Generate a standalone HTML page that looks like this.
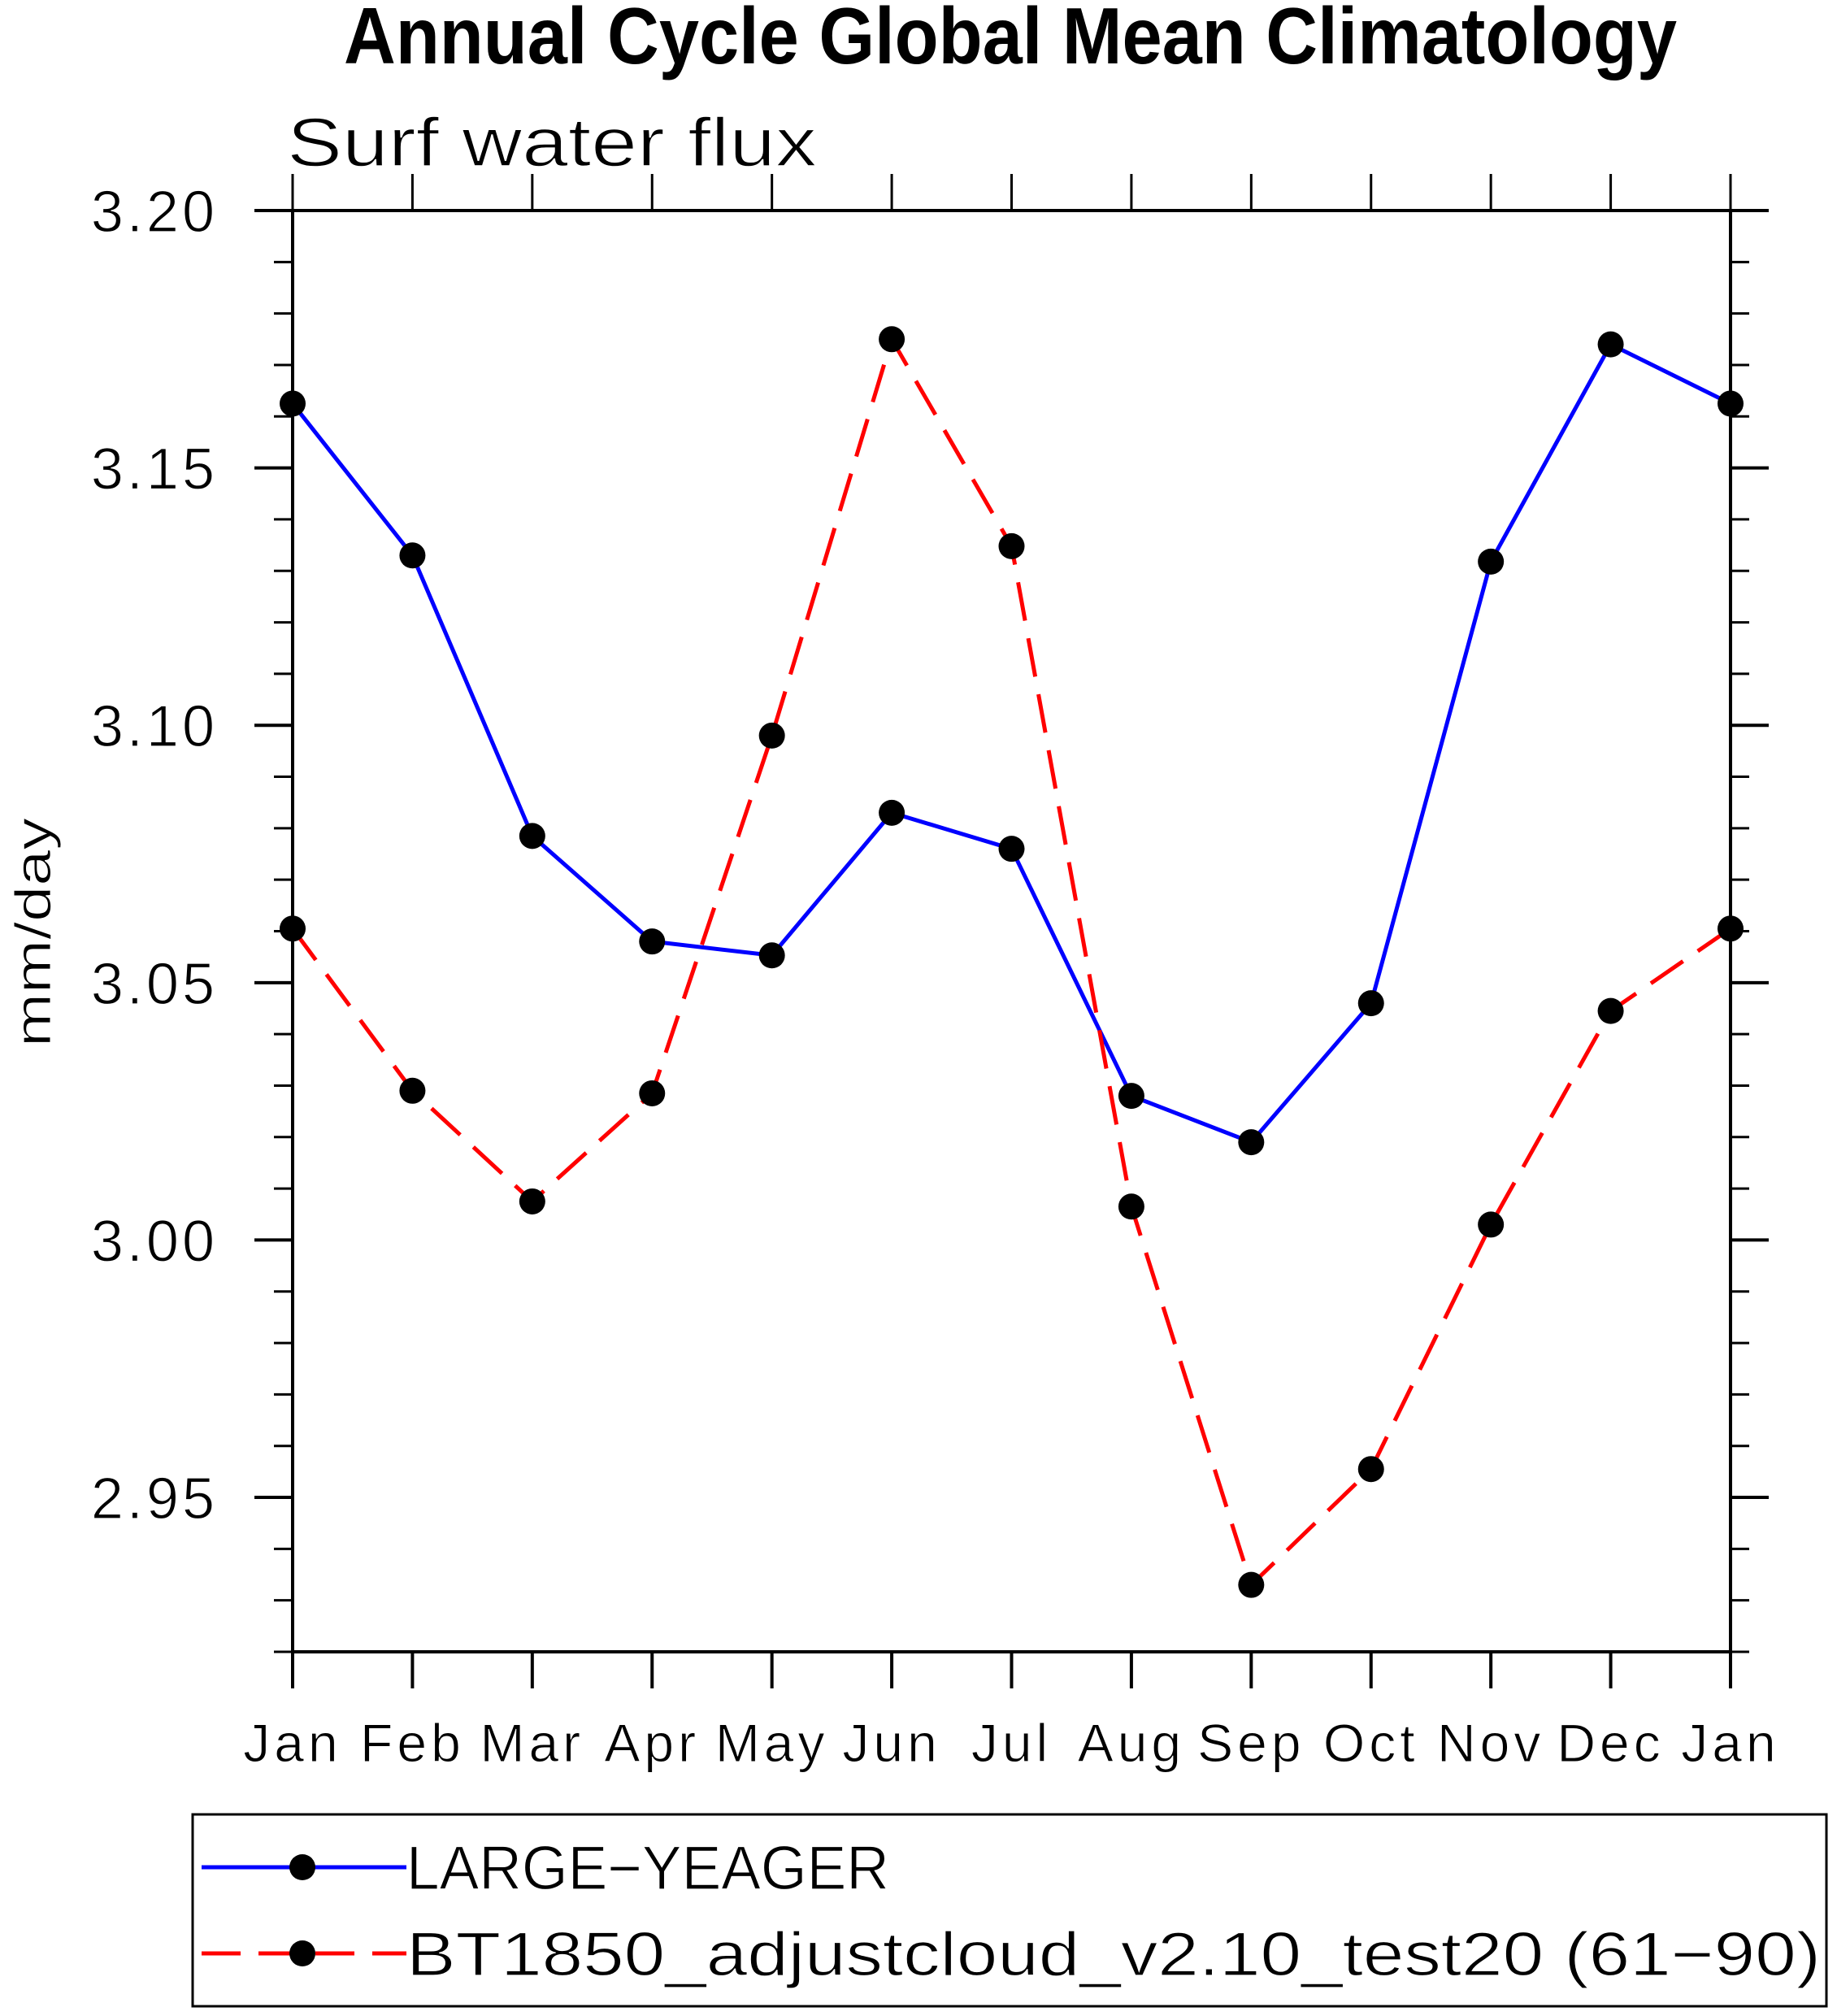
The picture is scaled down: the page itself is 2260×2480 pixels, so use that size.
<!DOCTYPE html>
<html><head><meta charset="utf-8"><style>
html,body{margin:0;padding:0;background:#fff;}
svg{display:block;}
text{font-family:"Liberation Sans",sans-serif;}
</style></head><body>
<svg id="chart" width="2260" height="2480" viewBox="0 0 2260 2480" xmlns="http://www.w3.org/2000/svg">
<text x="1243" y="78" text-anchor="middle" font-size="98" font-weight="bold" textLength="1640" lengthAdjust="spacingAndGlyphs">Annual Cycle Global Mean Climatology</text>
<text x="353" y="204" font-size="84" textLength="652" lengthAdjust="spacingAndGlyphs" stroke="#fff" stroke-width="1.5">Surf water flux</text>
<text transform="translate(62,1147) rotate(-90)" text-anchor="middle" font-size="62" textLength="282" lengthAdjust="spacingAndGlyphs" stroke="#fff" stroke-width="1">mm/day</text>
<g id="axes"></g>
<g id="series"></g>
<g id="legend">
<rect x="237" y="2232" width="2010" height="236" fill="none" stroke="#000" stroke-width="3"/>
<g>
<line x1="248" y1="2297" x2="500" y2="2297" stroke="#0000ff" stroke-width="5"/>
<circle cx="372" cy="2297" r="16" fill="#000"/>
<text x="500" y="2324" font-size="76" textLength="594" lengthAdjust="spacingAndGlyphs" stroke="#fff" stroke-width="1.2">LARGE−YEAGER</text>
</g>
<g>
<line x1="248" y1="2403" x2="500" y2="2403" stroke="#ff0000" stroke-width="5" stroke-dasharray="48,22"/>
<circle cx="372" cy="2403" r="16" fill="#000"/>
<text x="500" y="2430" font-size="76" textLength="1740" lengthAdjust="spacingAndGlyphs" stroke="#fff" stroke-width="1.2">BT1850_adjustcloud_v2.10_test20 (61−90)</text>
</g>
</g>
</svg>
<script>
const months = ["Jan","Feb","Mar","Apr","May","Jun","Jul","Aug","Sep","Oct","Nov","Dec","Jan"];
const largeYeager = [3.1625,3.133,3.0785,3.058,3.0553,3.083,3.076,3.028,3.019,3.046,3.1318,3.174,3.1625];
const bt1850 = [3.0605,3.029,3.0075,3.0285,3.098,3.175,3.1348,3.0065,2.933,2.9555,3.003,3.0445,3.0605];
const yTickLabels = ["3.20","3.15","3.10","3.05","3.00","2.95"];
const yTickValues = [3.20,3.15,3.10,3.05,3.00,2.95];
const yMin = 2.92, yMax = 3.20;

const NS = "http://www.w3.org/2000/svg";
const L = 360, R = 2129, T = 259, B = 2032;
const xs = i => L + (R - L) * i / (months.length - 1);
const ys = v => B - (v - yMin) / (yMax - yMin) * (B - T);
function mk(tag, attrs, parent) {
  const e = document.createElementNS(NS, tag);
  for (const k in attrs) e.setAttribute(k, attrs[k]);
  parent.appendChild(e);
  return e;
}
const axes = document.getElementById('axes');
const series = document.getElementById('series');

const frame = mk('rect', {x:L, y:T, width:R-L, height:B-T, fill:'none', stroke:'#000', 'stroke-width':4}, axes);



months.forEach((m, i) => {
  const x = xs(i);
  const tb = mk('line', {x1:x, y1:B, x2:x, y2:B+45, stroke:'#000', 'stroke-width':4}, axes);
  
  
  const tt = mk('line', {x1:x, y1:T, x2:x, y2:T-45, stroke:'#000', 'stroke-width':3}, axes);
  
  
  const lb = mk('text', {x:x, y:2167, 'text-anchor':'middle', 'font-size':66, 'letter-spacing':5, stroke:'#fff', 'stroke-width':1}, axes);
  lb.textContent = m;
  
  
});

for (let k = 0; k <= 28; k++) {
  const v = yMin + k * 0.01;
  const y = ys(v);
  const major = (k % 5 === 3);
  const len = major ? 47 : 23;
  const a = mk('line', {x1:L-len, y1:y, x2:L, y2:y, stroke:'#000', 'stroke-width':major?4:3}, axes);
  
  
  const b = mk('line', {x1:R, y1:y, x2:R+len, y2:y, stroke:'#000', 'stroke-width':major?4:3}, axes);
  
  
}
yTickValues.forEach((v, i) => {
  const t = mk('text', {x:268, y:ys(v)+26, 'text-anchor':'end', 'font-size':72, 'letter-spacing':4, stroke:'#fff', 'stroke-width':1.2}, axes);
  t.textContent = yTickLabels[i];
  
  
});

function drawSeries(vals, color, dash, name) {
  const pts = vals.map((v, i) => xs(i) + ',' + ys(v)).join(' ');
  const pl = mk('polyline', {points:pts, fill:'none', stroke:color, 'stroke-width':5}, series);
  if (dash) pl.setAttribute('stroke-dasharray', dash);
  
  
  vals.forEach((v, i) => {
    const c = mk('circle', {cx:xs(i), cy:ys(v), r:16, fill:'#000'}, series);
    
    
  });
}
drawSeries(largeYeager, '#0000ff', null, 'large-yeager');
drawSeries(bt1850, '#ff0000', '48,22', 'bt1850');
</script>
</body></html>
